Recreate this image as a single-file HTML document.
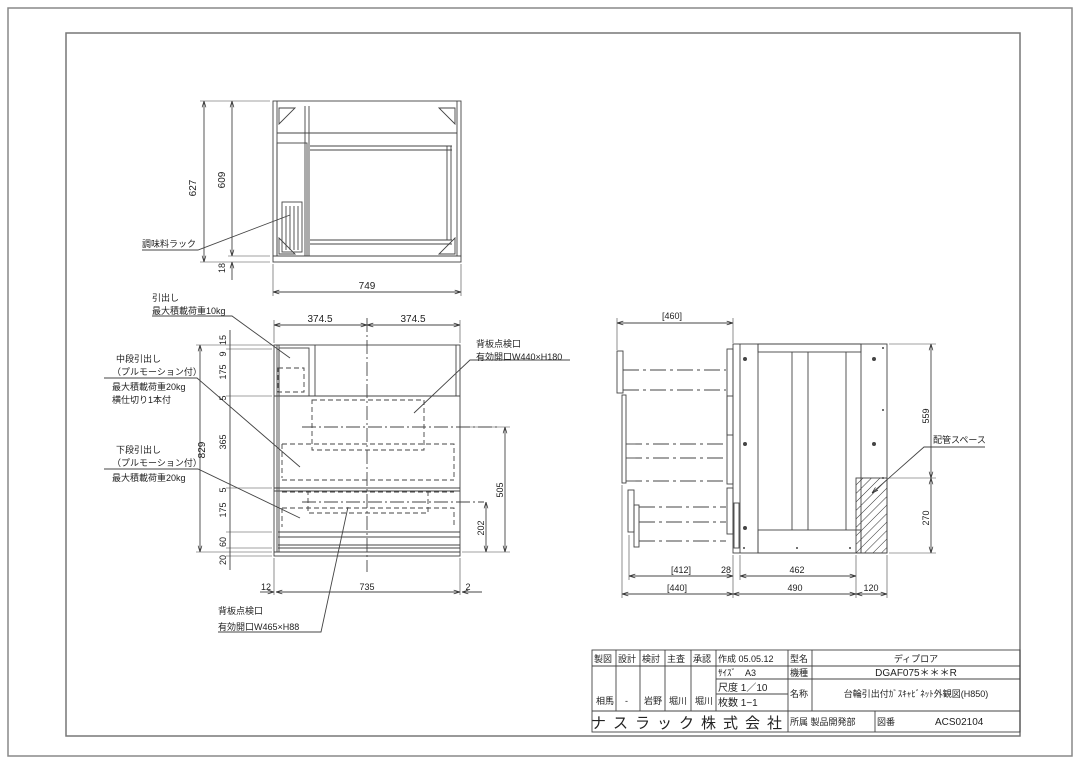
<!DOCTYPE html>
<html><head><meta charset="utf-8"><style>
body{margin:0;background:#fff}
svg{display:block}
text{font-family:"Liberation Sans","Noto Sans CJK JP",sans-serif;fill:#222}
.t{font-size:10px}
.s{font-size:9px}
</style></head><body>
<svg width="1080" height="764" viewBox="0 0 1080 764" xmlns="http://www.w3.org/2000/svg">
<defs>
<marker id="a" viewBox="0 0 10 10" refX="10" refY="5" markerWidth="7" markerHeight="7" orient="auto-start-reverse"><path d="M0,2 L10,5 L0,8" fill="none" stroke="#333" stroke-width="1.2"/></marker>
<pattern id="h" width="6" height="6" patternUnits="userSpaceOnUse" patternTransform="rotate(45)"><line x1="0" y1="0" x2="0" y2="6" stroke="#333" stroke-width="1"/></pattern>
</defs>
<g fill="none" stroke="#888" stroke-width="1.5">
<rect x="8" y="8" width="1064" height="748"/>
<rect x="66" y="33" width="954" height="703" stroke="#777"/>
</g>
<g fill="none" stroke="#444" stroke-width="0.9">
<!-- TOP VIEW -->
<rect x="273" y="101" width="188" height="155"/>
<rect x="273" y="256" width="188" height="6"/>
<line x1="277" y1="101" x2="277" y2="256"/><line x1="457" y1="101" x2="457" y2="256"/>
<line x1="277" y1="133" x2="457" y2="133"/>
<line x1="305" y1="106" x2="305" y2="256"/><line x1="309" y1="106" x2="309" y2="256"/>
<rect x="277" y="143" width="30" height="113"/>
<rect x="282" y="202" width="20" height="50"/>
<line x1="286" y1="206" x2="286" y2="250"/><line x1="290" y1="206" x2="290" y2="250"/><line x1="294" y1="206" x2="294" y2="250"/><line x1="298" y1="206" x2="298" y2="250"/>
<line x1="310" y1="146" x2="452" y2="146"/><line x1="310" y1="150" x2="452" y2="150"/>
<line x1="447" y1="146" x2="447" y2="240"/><line x1="451" y1="146" x2="451" y2="240"/>
<line x1="310" y1="240" x2="452" y2="240"/><line x1="310" y1="244" x2="452" y2="244"/>
<path d="M279,108 L295,108 L279,124Z M455,108 L439,108 L455,124Z M279,254 L279,238 L295,254Z M455,254 L455,238 L439,254Z"/>
<line x1="200" y1="101" x2="270" y2="101" stroke-width="0.6"/><line x1="200" y1="262" x2="270" y2="262" stroke-width="0.6"/>
<line x1="228" y1="256" x2="270" y2="256" stroke-width="0.6"/>
<line x1="204" y1="101" x2="204" y2="262" marker-start="url(#a)" marker-end="url(#a)"/>
<line x1="232" y1="101" x2="232" y2="256" marker-start="url(#a)" marker-end="url(#a)"/>
<line x1="232" y1="262" x2="232" y2="280" marker-start="url(#a)"/>
<line x1="273" y1="264" x2="273" y2="296" stroke-width="0.6"/><line x1="461" y1="264" x2="461" y2="296" stroke-width="0.6"/>
<line x1="273" y1="292" x2="461" y2="292" marker-start="url(#a)" marker-end="url(#a)"/>
<polyline points="142,250 198,250 290,215"/>

<!-- FRONT VIEW -->
<rect x="274" y="345" width="186" height="207"/>
<rect x="274" y="552" width="186" height="4"/>
<line x1="277" y1="345" x2="277" y2="552"/><line x1="279" y1="345" x2="279" y2="552"/>
<line x1="274" y1="396" x2="460" y2="396"/><line x1="274" y1="488" x2="460" y2="488"/><line x1="274" y1="491" x2="460" y2="491"/>
<line x1="456" y1="345" x2="456" y2="396"/>
<rect x="279" y="348" width="30" height="48"/>
<line x1="315" y1="345" x2="315" y2="396"/>
<line x1="278" y1="532" x2="460" y2="532"/><line x1="278" y1="537" x2="460" y2="537"/><line x1="278" y1="545" x2="460" y2="545"/><line x1="278" y1="548" x2="460" y2="548"/>
<g stroke-dasharray="5,3">
<rect x="278" y="368" width="26" height="24"/>
<rect x="312" y="400" width="112" height="50"/>
<path d="M282,492 L454,492 M282,480 L454,480"/>
<path d="M282,444 L454,444 L454,478 M282,444 L282,478"/>
<path d="M282,508 L454,508 L454,527 M282,508 L282,527"/>
<rect x="308" y="491" width="120" height="22"/>
</g>
<line x1="367" y1="318" x2="367" y2="572" stroke-dasharray="14,3,2,3"/>
<line x1="302" y1="427" x2="500" y2="427" stroke-dasharray="14,3,2,3"/>
<line x1="302" y1="502" x2="484" y2="502" stroke-dasharray="14,3,2,3"/>
<line x1="274" y1="320" x2="274" y2="343" stroke-width="0.6"/><line x1="460" y1="320" x2="460" y2="343" stroke-width="0.6"/>
<line x1="274" y1="325" x2="367" y2="325" marker-start="url(#a)" marker-end="url(#a)"/>
<line x1="367" y1="325" x2="460" y2="325" marker-start="url(#a)" marker-end="url(#a)"/>
<line x1="196" y1="345" x2="272" y2="345" stroke-width="0.6"/><line x1="196" y1="552" x2="272" y2="552" stroke-width="0.6"/>
<line x1="200" y1="345" x2="200" y2="552" marker-start="url(#a)" marker-end="url(#a)"/>
<line x1="230" y1="330" x2="230" y2="570"/>
<g stroke-width="0.6"><line x1="226" y1="349" x2="272" y2="349"/><line x1="226" y1="396" x2="272" y2="396"/><line x1="226" y1="488" x2="272" y2="488"/><line x1="226" y1="532" x2="272" y2="532"/><line x1="226" y1="548" x2="272" y2="548"/><line x1="226" y1="556" x2="272" y2="556"/></g>
<line x1="462" y1="427" x2="510" y2="427" stroke-width="0.6"/><line x1="462" y1="552" x2="510" y2="552" stroke-width="0.6"/>
<line x1="505" y1="427" x2="505" y2="552" marker-start="url(#a)" marker-end="url(#a)"/>
<line x1="486" y1="502" x2="486" y2="552" marker-start="url(#a)" marker-end="url(#a)"/>
<line x1="274" y1="558" x2="274" y2="595" stroke-width="0.6"/><line x1="460" y1="558" x2="460" y2="595" stroke-width="0.6"/>
<line x1="260" y1="592" x2="274" y2="592" marker-end="url(#a)"/><line x1="276" y1="592" x2="460" y2="592" marker-start="url(#a)" marker-end="url(#a)"/><line x1="462" y1="592" x2="482" y2="592" marker-start="url(#a)"/>
<polyline points="152,316 232,316 290,358"/>
<polyline points="104,378 197,378 300,467"/>
<polyline points="104,469 198,469 300,518"/>
<polyline points="218,632 321,632 348,507"/>
<polyline points="570,360 470,360 414,413"/>

<!-- SIDE VIEW -->
<rect x="733" y="344" width="154" height="209"/>
<line x1="740" y1="344" x2="740" y2="553"/>
<rect x="758" y="344" width="103" height="209"/>
<rect x="758" y="344" width="103" height="8"/>
<rect x="758" y="530" width="103" height="23"/>
<line x1="792" y1="352" x2="792" y2="530"/><line x1="808" y1="352" x2="808" y2="530"/><line x1="846" y1="352" x2="846" y2="530"/>
<rect x="856" y="478" width="31" height="75" fill="url(#h)"/>
<rect x="727" y="349" width="6" height="86"/><rect x="727" y="396" width="6" height="88"/><rect x="727" y="488" width="6" height="46"/>
<rect x="734" y="503" width="5" height="45"/>
<rect x="617" y="351" width="6" height="42"/><rect x="622" y="395" width="4" height="88"/><rect x="628" y="490" width="6" height="42"/><rect x="634" y="505" width="5" height="42"/>
<g stroke-dasharray="16,4,3,4">
<line x1="623" y1="370" x2="726" y2="370"/><line x1="623" y1="390" x2="726" y2="390"/>
<line x1="626" y1="444" x2="726" y2="444"/><line x1="626" y1="458" x2="726" y2="458"/><line x1="626" y1="481" x2="726" y2="481"/>
<line x1="639" y1="507" x2="726" y2="507"/><line x1="639" y1="522" x2="726" y2="522"/><line x1="639" y1="541" x2="726" y2="541"/>
</g>
<line x1="617" y1="318" x2="617" y2="350" stroke-width="0.6"/><line x1="733" y1="318" x2="733" y2="343" stroke-width="0.6"/>
<line x1="617" y1="323" x2="733" y2="323" marker-start="url(#a)" marker-end="url(#a)"/>
<line x1="629" y1="535" x2="629" y2="580" stroke-width="0.6"/><line x1="622" y1="485" x2="622" y2="598" stroke-width="0.6"/>
<line x1="733" y1="555" x2="733" y2="598" stroke-width="0.6"/><line x1="740" y1="555" x2="740" y2="580" stroke-width="0.6"/>
<line x1="856" y1="555" x2="856" y2="598" stroke-width="0.6"/><line x1="887" y1="555" x2="887" y2="598" stroke-width="0.6"/>
<line x1="629" y1="576" x2="733" y2="576" marker-start="url(#a)" marker-end="url(#a)"/>
<line x1="740" y1="576" x2="856" y2="576" marker-start="url(#a)" marker-end="url(#a)"/>
<line x1="622" y1="594" x2="733" y2="594" marker-start="url(#a)" marker-end="url(#a)"/>
<line x1="733" y1="594" x2="856" y2="594" marker-start="url(#a)" marker-end="url(#a)"/>
<line x1="856" y1="594" x2="887" y2="594" marker-start="url(#a)" marker-end="url(#a)"/>
<line x1="889" y1="344" x2="936" y2="344" stroke-width="0.6"/><line x1="889" y1="478" x2="936" y2="478" stroke-width="0.6"/><line x1="889" y1="553" x2="936" y2="553" stroke-width="0.6"/>
<line x1="931" y1="344" x2="931" y2="478" marker-start="url(#a)" marker-end="url(#a)"/>
<line x1="931" y1="478" x2="931" y2="553" marker-start="url(#a)" marker-end="url(#a)"/>
<polyline points="985,447 924,447 872,493" marker-end="url(#a)"/>
</g>
<g fill="#444"><circle cx="745" cy="359" r="2"/><circle cx="874" cy="359" r="2"/><circle cx="745" cy="444" r="2"/><circle cx="874" cy="444" r="2"/><circle cx="745" cy="528" r="2"/><circle cx="744" cy="548" r="1"/><circle cx="797" cy="548" r="1"/><circle cx="850" cy="548" r="1"/><circle cx="883" cy="348" r="1"/><circle cx="883" cy="410" r="1"/><circle cx="883" cy="478" r="1"/></g>

<!-- text -->
<g class="t">
<text x="196" y="188" transform="rotate(-90 196 188)" text-anchor="middle">627</text>
<text x="225" y="180" transform="rotate(-90 225 180)" text-anchor="middle">609</text>
<text x="225" y="268" transform="rotate(-90 225 268)" text-anchor="middle" class="s">18</text>
<text x="367" y="289" text-anchor="middle">749</text>
<text x="142" y="247" class="s">調味料ラック</text>
<text x="320" y="322" text-anchor="middle">374.5</text><text x="413" y="322" text-anchor="middle">374.5</text>
<text x="152" y="301" class="s">引出し</text><text x="152" y="314" class="s">最大積載荷重10kg</text>
<text x="116" y="362" class="s">中段引出し</text><text x="112" y="375" class="s">（プルモーション付）</text>
<text x="112" y="390" class="s">最大積載荷重20kg</text><text x="112" y="403" class="s">横仕切り1本付</text>
<text x="116" y="453" class="s">下段引出し</text><text x="112" y="466" class="s">（プルモーション付）</text>
<text x="112" y="481" class="s">最大積載荷重20kg</text>
<text x="476" y="347" class="s">背板点検口</text><text x="476" y="360" class="s">有効開口W440×H180</text>
<text x="218" y="614" class="s">背板点検口</text><text x="218" y="630" class="s">有効開口W465×H88</text>
<text x="205" y="450" transform="rotate(-90 205 450)" text-anchor="middle">829</text>
<g class="s">
<text x="226" y="340" transform="rotate(-90 226 340)" text-anchor="middle">15</text>
<text x="226" y="354" transform="rotate(-90 226 354)" text-anchor="middle">9</text>
<text x="226" y="372" transform="rotate(-90 226 372)" text-anchor="middle">175</text>
<text x="226" y="398" transform="rotate(-90 226 398)" text-anchor="middle">5</text>
<text x="226" y="442" transform="rotate(-90 226 442)" text-anchor="middle">365</text>
<text x="226" y="490" transform="rotate(-90 226 490)" text-anchor="middle">5</text>
<text x="226" y="510" transform="rotate(-90 226 510)" text-anchor="middle">175</text>
<text x="226" y="542" transform="rotate(-90 226 542)" text-anchor="middle">60</text>
<text x="226" y="560" transform="rotate(-90 226 560)" text-anchor="middle">20</text>
<text x="503" y="490" transform="rotate(-90 503 490)" text-anchor="middle">505</text>
<text x="484" y="528" transform="rotate(-90 484 528)" text-anchor="middle">202</text>
<text x="266" y="590" text-anchor="middle">12</text><text x="367" y="590" text-anchor="middle">735</text><text x="468" y="590" text-anchor="middle">2</text>
<text x="672" y="319" text-anchor="middle">[460]</text>
<text x="681" y="573" text-anchor="middle">[412]</text><text x="726" y="573" text-anchor="middle">28</text><text x="797" y="573" text-anchor="middle">462</text>
<text x="677" y="591" text-anchor="middle">[440]</text><text x="795" y="591" text-anchor="middle">490</text><text x="871" y="591" text-anchor="middle">120</text>
<text x="929" y="416" transform="rotate(-90 929 416)" text-anchor="middle">559</text>
<text x="929" y="518" transform="rotate(-90 929 518)" text-anchor="middle">270</text>
<text x="933" y="443">配管スペース</text>
</g>
</g>

<!-- title block -->
<g fill="none" stroke="#444" stroke-width="0.9">
<rect x="592" y="650" width="428" height="82"/>
<line x1="592" y1="666" x2="788" y2="666"/><line x1="592" y1="711" x2="1020" y2="711"/>
<line x1="716" y1="679" x2="1020" y2="679"/><line x1="716" y1="694" x2="788" y2="694"/>
<line x1="788" y1="666" x2="1020" y2="666"/>
<line x1="616" y1="650" x2="616" y2="711"/><line x1="640" y1="650" x2="640" y2="711"/><line x1="665" y1="650" x2="665" y2="711"/><line x1="691" y1="650" x2="691" y2="711"/><line x1="716" y1="650" x2="716" y2="711"/>
<line x1="788" y1="650" x2="788" y2="732"/><line x1="812" y1="650" x2="812" y2="711"/><line x1="875" y1="711" x2="875" y2="732"/>
</g>
<g class="s">
<text x="594" y="662">製図</text><text x="618" y="662">設計</text><text x="642" y="662">検討</text><text x="667" y="662">主査</text><text x="693" y="662">承認</text><text x="718" y="662">作成 05.05.12</text><text x="790" y="662">型名</text><text x="916" y="662" text-anchor="middle">ディプロア</text>
<text x="718" y="676">ｻｲｽﾞ　A3</text><text x="790" y="676">機種</text><text x="916" y="676" text-anchor="middle" font-size="10">DGAF075＊＊＊R</text>
<text x="718" y="691" font-size="10">尺度 1／10</text><text x="718" y="706" font-size="10">枚数 1−1</text>
<text x="790" y="697">名称</text><text x="916" y="697" text-anchor="middle">台輪引出付ｶﾞｽｷｬﾋﾞﾈｯﾄ外観図(H850)</text>
<text x="596" y="704">相馬</text><text x="625" y="704">-</text><text x="644" y="704">岩野</text><text x="669" y="704">堀川</text><text x="695" y="704">堀川</text>
<text x="790" y="725">所属 製品開発部</text><text x="877" y="725">図番</text><text x="935" y="725" font-size="10">ACS02104</text>
</g>
<text x="690" y="728" text-anchor="middle" font-size="15" letter-spacing="7">ナスラック株式会社</text>
</svg>
</body></html>
